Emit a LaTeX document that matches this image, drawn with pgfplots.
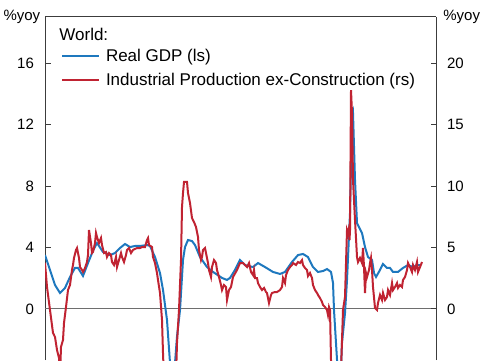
\documentclass[border=0pt]{standalone}
\usepackage{pgfplots}
\pgfplotsset{compat=1.18}
\usepackage{fontspec}
\setmainfont{Liberation Sans}
\definecolor{gdpblue}{RGB}{30,120,190}
\definecolor{ipred}{RGB}{192,35,50}
\definecolor{axgray}{RGB}{60,60,60}
\definecolor{zerogray}{RGB}{110,110,110}
\begin{document}
\begin{tikzpicture}
\pgfplotsset{
  base/.style={
    scale only axis, width=195.5pt, height=171.5pt,
    at={(0,0)}, anchor=south west,
    xmin=45, xmax=436,
    xtick=\empty,
    tick align=inside,
    major tick length=2.75pt,
    axis line style={axgray, line width=0.5pt, -},
    tick style={axgray, line width=0.5pt},
    ticklabel style={font=\fontsize{7.5}{9}\selectfont},
    /pgf/number format/assume math mode=true,
  }
}
\begin{axis}[base, name=ax1,
  axis x line*=top, axis y line*=left,
  ymin=-3.32, ymax=19,
  ytick={0,4,8,12,16},
  yticklabel style={xshift=-2pt},
  legend style={at={(rel axis cs:0,1)}, anchor=north west, xshift=8pt, yshift=-13.85pt,
    draw=none, fill=none, inner sep=0pt, outer sep=0pt,
    font=\fontsize{8.5}{10}\selectfont, row sep=0.35pt, column sep=1pt},
  legend cell align=left,
  legend image code/.code={\draw[#1] (0pt,0pt) -- (18.5pt,0pt);},
]
\addplot[forget plot, zerogray, line width=0.5pt] coordinates {(45,0) (436,0)};
\addplot[gdpblue, line width=1pt] coordinates {
(45,3.51) (50,2.54) (55,1.56) (60,1.04) (65,1.37) (70,2.08) (75,2.67) (78,2.67) (83,2.15) (88,2.99) (93,3.8) (97,4.29) (103,3.71) (110,3.51) (115,3.64) (120,3.97) (125,4.23) (130,4.03) (135,4.10) (140,4.10) (147,4.16) (150,4.10) (155,3.38) (160,2.34) (163,1.24) (167,-0.72) (170,-3.5) (172,-5.0) (175,-3.5) (177,-1.8) (180,-0.07) (183,3.19) (185,4.03) (188,4.49) (192,4.42) (195,4.16) (200,3.38) (207,2.73) (213,2.41) (222,2.02) (227,1.89) (230,2.02) (235,2.54) (240,3.19) (245,2.86) (253,2.73) (258,2.99) (265,2.73) (273,2.41) (280,2.28) (285,2.41) (292,3.06) (298,3.51) (303,3.58) (308,3.38) (313,2.73) (318,2.41) (323,2.47) (327,2.6) (331,2.41) (333,1.69) (334,-0.07) (337,-3.3) (339,-7.0) (342,-2.2) (345,-0.26) (347,1.89) (350,6.24) (352,12.49) (353,12.75) (355,8.39) (357,5.59) (359,5.33) (362,4.94) (365,4.03) (368,3.38) (372,3.19) (374,2.34) (376,2.08) (380,2.54) (383,2.93) (387,2.67) (390,2.67) (393,2.41) (398,2.41) (403,2.67) (408,2.86) (413,2.73) (417,2.86) (420,2.86)
};
\addlegendentry{Real GDP (ls)}
\addlegendimage{ipred, line width=1pt}
\addlegendentry{Industrial Production ex-Construction (rs)}
\end{axis}
\begin{axis}[base, name=ax2,
  axis x line=none, axis y line*=right,
  ymin=-4.15, ymax=23.75,
  ytick={0,5,10,15,20},
  yticklabel style={xshift=2pt},
]
\addplot[ipred, line width=1pt] coordinates {
(45,3.74) (47,1.79) (50,-0.08) (53,-1.95) (55,-2.28) (57,-3.33) (59,-3.98) (60,-5.5) (61,-3.09) (63,-2.52) (64,-1.14) (66,0.16) (68,1.54) (70,1.95) (72,3.17) (73,3.58) (74,4.15) (76,4.80) (77,4.96) (79,4.15) (80,3.41) (82,3.17) (83,3.01) (85,3.33) (87,3.82) (88,4.39) (89,6.42) (91,5.37) (92,4.55) (93,4.63) (95,5.37) (96,6.18) (97,5.85) (99,5.37) (101,5.77) (102,5.20) (104,4.55) (106,4.63) (107,4.23) (109,4.55) (111,4.39) (112,3.82) (114,3.58) (116,4.23) (117,3.41) (119,3.98) (121,4.55) (122,4.23) (124,3.82) (126,4.39) (127,4.80) (129,4.96) (131,4.55) (133,4.80) (135,4.88) (137,4.96) (140,4.96) (142,5.04) (145,5.04) (147,5.61) (148,5.77) (149,5.20) (152,5.04) (153,4.23) (155,3.74) (157,2.93) (158,2.36) (160,1.30) (162,-0.89) (163,-3.58) (165,-8) (168,-12) (171,-14) (174,-11) (177,-2.76) (179,-0.08) (181,3.98) (182,8.29) (183,9.43) (184,10.33) (187,10.33) (188,9.43) (190,8.62) (192,7.40) (194,7.07) (196,6.67) (198,5.85) (199,4.80) (201,3.98) (202,4.23) (203,4.80) (205,4.96) (206,4.55) (208,3.74) (209,3.17) (211,2.60) (212,3.41) (214,3.98) (216,3.74) (217,3.17) (219,2.60) (221,1.95) (222,1.54) (224,1.95) (226,1.79) (227,0.73) (229,1.54) (231,1.79) (233,2.60) (237,3.17) (240,3.74) (243,3.74) (247,3.41) (249,3.74) (251,3.01) (253,2.76) (254,3.17) (255,2.52) (257,2.52) (258,2.11) (260,1.79) (262,1.54) (264,1.71) (266,1.38) (267,1.30) (269,0.49) (271,1.14) (272,1.30) (275,1.38) (277,1.38) (280,1.54) (282,1.79) (283,2.52) (285,2.11) (286,2.76) (288,3.17) (290,3.41) (292,3.58) (293,3.74) (296,3.58) (298,3.82) (300,3.74) (302,3.98) (303,3.58) (305,3.33) (307,3.17) (308,2.68) (310,2.93) (312,2.52) (313,1.95) (315,1.54) (317,1.30) (318,1.14) (320,0.89) (322,0.57) (323,0.33) (325,0.16) (327,-0.08) (328,-0.49) (329,0.16) (330,-0.08) (331,-4.15) (333,-10) (336,-13) (339,-10) (341,-5) (343,-0.08) (345,0.98) (347,6.42) (348,6.18) (349,6.59) (349.5,5.61) (350,6.42) (351,17.80) (352,15.93) (353,10.49) (355,7.24) (357,4.23) (358,3.82) (360,4.15) (362,3.74) (363,4.96) (364,3.41) (365,1.30) (366,2.93) (367,2.60) (369,3.17) (370,3.74) (371,4.15) (372,3.17) (373,1.79) (375,0.08) (377,-0.08) (378,0.49) (380,1.14) (382,0.73) (383,1.30) (385,0.73) (387,0.98) (388,1.54) (390,1.14) (392,2.11) (393,1.54) (395,1.79) (397,2.11) (398,1.71) (400,1.95) (402,1.79) (403,2.36) (405,2.60) (407,3.17) (408,3.74) (410,3.41) (412,3.01) (413,3.58) (415,3.17) (417,3.82) (418,3.01) (420,3.41) (422,3.82)
};
\end{axis}
\node[anchor=base west, font=\fontsize{8.5}{10}\selectfont, inner sep=0pt] at ([xshift=7pt, yshift=-11.85pt]ax1.north west) {World:};
\node[anchor=east, font=\fontsize{7.5}{9}\selectfont, inner sep=0pt] at ([xshift=-2.2pt]ax1.north west) {\%yoy};
\node[anchor=west, font=\fontsize{7.5}{9}\selectfont, inner sep=0pt] at ([xshift=3.5pt]ax1.north east) {\%yoy};
\pgfresetboundingbox
\useasboundingbox (-22.5pt,0pt) rectangle (220pt,180pt);
\end{tikzpicture}
\end{document}
